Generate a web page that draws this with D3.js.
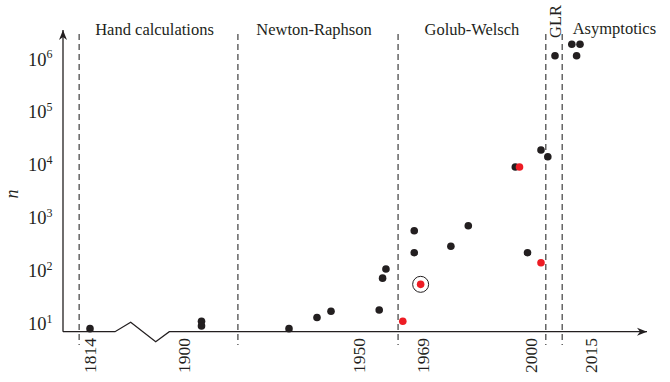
<!DOCTYPE html>
<html>
<head>
<meta charset="utf-8">
<script src="https://cdn.jsdelivr.net/npm/d3@7"></script>
<style>
  html, body { margin: 0; padding: 0; background: #fff; }
  svg { display: block; }
  text { font-family: "Liberation Serif", "DejaVu Serif", serif; fill: #231f20; }
</style>
</head>
<body>
<svg id="chart" width="670" height="382"></svg>
<script>
// ---------------- data ----------------
const tickYears = [1814, 1900, 1950, 1969, 2000, 2015];
const yTickExponents = [1, 2, 3, 4, 5, 6];

const blackYears = [1814, 1905, 1905, 1930, 1938, 1942, 1956, 1957, 1958, 1966.4, 1966.4, 1977, 1982, 1995.5, 1999, 2002.5, 2004.2, 2006, 2010.2, 2011.4, 2012.25];
const blackN     = [8, 11, 9, 8, 13, 17, 18, 72, 107, 568, 218, 288, 706, 9080, 218, 19050, 14200, 1.15e6, 1.9e6, 1.15e6, 1.9e6];

const redYears = [1963, 1968.3, 1996.7, 2002.5];
const redN     = [11, 55, 9080, 141];

const circledYears = [1968.3];
const circledN     = [55];

const regionBounds = [1810.9, 1915.4, 1961.6, 2003.7, 2007.8];
const regionNames  = ["Hand calculations", "Newton-Raphson", "Golub-Welsch", "GLR", "Asymptotics"];

// ---------------- scales ----------------
const svg = d3.select("#chart");
const INK = "#231f20";
const RED = "#ed1c24";
const DASH = "#4d4d4d";

// broken time axis: compressed gap between 1820 and 1896
const x = d3.scaleLinear()
  .domain([1810, 1820, 1896, 1900, 1950, 1969, 2000, 2015, 2020])
  .range([76, 111, 170, 184, 359, 423, 531, 591, 611]);

const y = d3.scaleLog()
  .domain([10, 1e6])
  .range([323.5, 59]);

const axisY = y(7);      // baseline of the x axis
const axisX = 63;        // position of the y axis
const yTop = 30;
const xEnd = 647;

// ---------------- region dashed lines ----------------
svg.append("g").selectAll("line")
  .data(regionBounds)
  .join("line")
  .attr("x1", d => x(d)).attr("x2", d => x(d))
  .attr("y1", 34).attr("y2", 345)
  .attr("stroke", DASH)
  .attr("stroke-width", 1.3)
  .attr("stroke-dasharray", "6,4");

// ---------------- region labels ----------------
const lbl = svg.append("g").attr("font-size", 16.5);
regionNames.forEach((name, i) => {
  const x0 = x(regionBounds[i]);
  const x1 = i + 1 < regionBounds.length ? x(regionBounds[i + 1]) : null;
  if (name === "GLR") {
    lbl.append("text")
      .attr("transform", `translate(${(x0 + x1) / 2 + 1},21.5) rotate(-90)`)
      .attr("text-anchor", "middle")
      .attr("dominant-baseline", "central")
      .text(name);
  } else if (x1 === null) {
    lbl.append("text")
      .attr("x", x0 + 10.5).attr("y", 34)
      .attr("text-anchor", "start")
      .text(name);
  } else {
    const off = i < 2 ? -4 : 0;
    lbl.append("text")
      .attr("x", (x0 + x1) / 2 + off).attr("y", 34.5)
      .attr("text-anchor", "middle")
      .text(name);
  }
});

// ---------------- axes ----------------
const defs = svg.append("defs");
defs.append("marker")
  .attr("id", "arrow")
  .attr("viewBox", "0 0 10 10")
  .attr("refX", 10).attr("refY", 5)
  .attr("markerWidth", 10).attr("markerHeight", 10)
  .attr("markerUnits", "userSpaceOnUse")
  .attr("orient", "auto")
  .append("path")
  .attr("d", "M0,1 L10,5 L0,9 L3,5 Z")
  .attr("fill", INK);

// y axis
svg.append("line")
  .attr("x1", axisX).attr("x2", axisX)
  .attr("y1", axisY).attr("y2", yTop)
  .attr("stroke", INK).attr("stroke-width", 1.3)
  .attr("marker-end", "url(#arrow)");

// x axis with break zig-zag
const brk = [
  [axisX, axisY],
  [115, axisY],
  [130.7, axisY - 9.4],
  [155.7, axisY + 10],
  [169.3, axisY],
  [xEnd, axisY]
];
svg.append("path")
  .attr("d", d3.line()(brk))
  .attr("fill", "none")
  .attr("stroke", INK).attr("stroke-width", 1.3)
  .attr("stroke-linejoin", "miter")
  .attr("marker-end", "url(#arrow)");

// x tick labels (rotated)
svg.append("g").selectAll("text")
  .data(tickYears)
  .join("text")
  .attr("transform", d => `translate(${x(d)},338) rotate(-90)`)
  .attr("text-anchor", "end")
  .attr("dominant-baseline", "central")
  .attr("font-size", 17.5)
  .text(d => d);

// y tick labels 10^k
const yl = svg.append("g").selectAll("text")
  .data(yTickExponents)
  .join("text")
  .attr("x", 52.5).attr("y", d => y(Math.pow(10, d)) + 6.5)
  .attr("text-anchor", "end")
  .attr("font-size", 18.5);
yl.append("tspan").text("10");
yl.append("tspan")
  .attr("font-size", 12)
  .attr("dy", -7.5)
  .text(d => d);

// y axis title
svg.append("text")
  .attr("transform", "translate(12,194) rotate(-90)")
  .attr("text-anchor", "middle")
  .attr("dominant-baseline", "central")
  .attr("font-size", 18)
  .attr("font-style", "italic")
  .text("n");

// ---------------- points ----------------
const R = 3.8;
svg.append("g").selectAll("circle")
  .data(blackYears.map((yr, i) => [yr, blackN[i]]))
  .join("circle")
  .attr("cx", d => x(d[0])).attr("cy", d => y(d[1]))
  .attr("r", R).attr("fill", INK);

svg.append("g").selectAll("circle")
  .data(redYears.map((yr, i) => [yr, redN[i]]))
  .join("circle")
  .attr("cx", d => x(d[0])).attr("cy", d => y(d[1]))
  .attr("r", R).attr("fill", RED);

svg.append("g").selectAll("circle")
  .data(circledYears.map((yr, i) => [yr, circledN[i]]))
  .join("circle")
  .attr("cx", d => x(d[0])).attr("cy", d => y(d[1]))
  .attr("r", 8).attr("fill", "none")
  .attr("stroke", INK).attr("stroke-width", 1);
</script>
</body>
</html>
